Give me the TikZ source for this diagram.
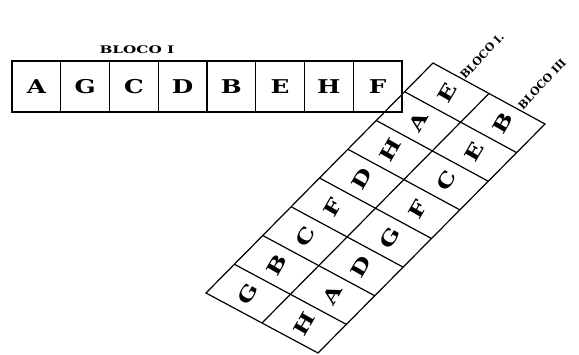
\documentclass[tikz,border=0pt]{standalone}
\usepackage{fontspec}
\setmainfont{DejaVu Serif}
\newfontfamily\cellfont[FakeStretch=1.3]{DejaVu Serif}
\newfontfamily\labelfont[FakeStretch=1.45]{DejaVu Serif}
\usetikzlibrary{positioning, calc}

\begin{document}
\begin{tikzpicture}[
        x=1pt, y=-1pt,
        cell/.style={rectangle, draw, line width=1.2pt, outer sep=0pt, inner sep=0pt, minimum width=48.75pt, minimum height=51pt, font=\cellfont\bfseries\fontsize{19}{19}\selectfont},
        tilted/.style={inner sep=0pt, rotate=60, font=\cellfont\bfseries\fontsize{19}{19}\selectfont},
        blocklabel/.style={inner sep=0pt, font=\labelfont\bfseries\fontsize{10.5}{10.5}\selectfont},
        sidelabel/.style={inner sep=0pt, rotate=47, font=\bfseries\fontsize{11}{11}\selectfont},
        grid/.style={line width=1.2pt, line join=miter}
    ]
        \useasboundingbox (0,0) rectangle (579,355);

        % bloco I, one row
        \node (b1-1) [cell] at (36.4,86.5) {A};
        \node (b1-2) [cell, right=0pt of b1-1] {G};
        \node (b1-3) [cell, right=0pt of b1-2] {C};
        \node (b1-4) [cell, right=0pt of b1-3] {D};
        \node (b1-5) [cell, right=0pt of b1-4] {B};
        \node (b1-6) [cell, right=0pt of b1-5] {E};
        \node (b1-7) [cell, right=0pt of b1-6] {H};
        \node (b1-8) [cell, right=0pt of b1-7] {F};
        \node (lbl1) [blocklabel, above=7pt of b1-3, xshift=3pt] {BLOCO I};

        % tilted blocks, two columns of eight
        \coordinate (T) at (433,63);
        \coordinate (R) at (545,124);
        \coordinate (L) at (206,293);
        \coordinate (B) at (318,353);
        \draw [grid] (T) -- (R) -- (B) -- (L) -- cycle;
        \draw [grid] ($(T)!0.5!(R)$) -- ($(L)!0.5!(B)$);
        \draw [grid] ($(T)!0.125!(L)$) -- ($(R)!0.125!(B)$);
        \draw [grid] ($(T)!0.25!(L)$) -- ($(R)!0.25!(B)$);
        \draw [grid] ($(T)!0.375!(L)$) -- ($(R)!0.375!(B)$);
        \draw [grid] ($(T)!0.5!(L)$) -- ($(R)!0.5!(B)$);
        \draw [grid] ($(T)!0.625!(L)$) -- ($(R)!0.625!(B)$);
        \draw [grid] ($(T)!0.75!(L)$) -- ($(R)!0.75!(B)$);
        \draw [grid] ($(T)!0.875!(L)$) -- ($(R)!0.875!(B)$);

        % centre lines of the two columns
        \coordinate (lt) at ($(T)!0.25!(R)$);
        \coordinate (lb) at ($(L)!0.25!(B)$);
        \coordinate (rt) at ($(T)!0.75!(R)$);
        \coordinate (rb) at ($(L)!0.75!(B)$);

        \node (b2-1) [tilted] at ($(lt)!0.0625!(lb)$) {E};
        \node (b2-2) [tilted] at ($(lt)!0.1875!(lb)$) {A};
        \node (b2-3) [tilted] at ($(lt)!0.3125!(lb)$) {H};
        \node (b2-4) [tilted] at ($(lt)!0.4375!(lb)$) {D};
        \node (b2-5) [tilted] at ($(lt)!0.5625!(lb)$) {F};
        \node (b2-6) [tilted] at ($(lt)!0.6875!(lb)$) {C};
        \node (b2-7) [tilted] at ($(lt)!0.8125!(lb)$) {B};
        \node (b2-8) [tilted] at ($(lt)!0.9375!(lb)$) {G};

        \node (b3-1) [tilted] at ($(rt)!0.0625!(rb)$) {B};
        \node (b3-2) [tilted] at ($(rt)!0.1875!(rb)$) {E};
        \node (b3-3) [tilted] at ($(rt)!0.3125!(rb)$) {C};
        \node (b3-4) [tilted] at ($(rt)!0.4375!(rb)$) {F};
        \node (b3-5) [tilted] at ($(rt)!0.5625!(rb)$) {G};
        \node (b3-6) [tilted] at ($(rt)!0.6875!(rb)$) {D};
        \node (b3-7) [tilted] at ($(rt)!0.8125!(rb)$) {A};
        \node (b3-8) [tilted] at ($(rt)!0.9375!(rb)$) {H};

        \node (lbl2) [sidelabel] at (482,56) {BLOCO I.};
        \node (lbl3) [sidelabel] at (542,84) {BLOCO III};
    \end{tikzpicture}
\end{document}
